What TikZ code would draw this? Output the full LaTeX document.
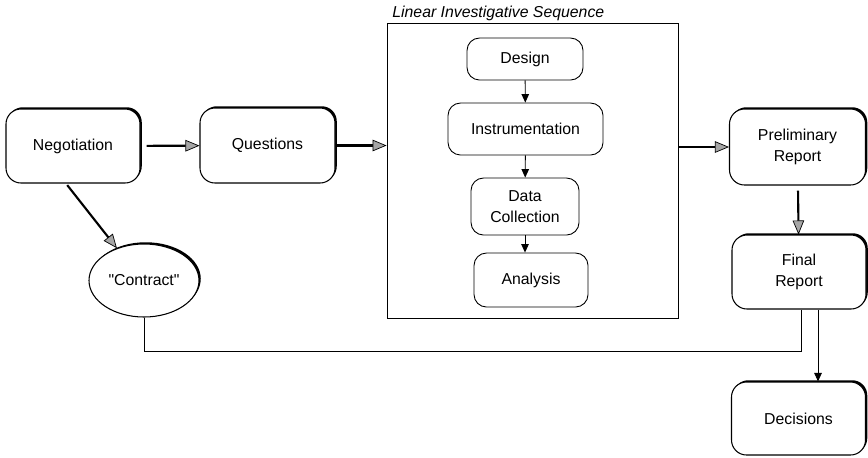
\documentclass[tikz,border=0pt]{standalone}
\usepackage{fontspec}
\setmainfont{Liberation Sans}[Ligatures=TeXOff]
\usetikzlibrary{arrows.meta,positioning,shapes.geometric,shadows}

\begin{document}
\begin{tikzpicture}[
    font=\fontsize{9}{12}\selectfont,
    block/.style={draw,fill=white,rounded corners=0.3cm,align=center,minimum width=2.68cm,minimum height=1.48cm,line width=0.6pt,
        drop shadow={shadow xshift=1pt,shadow yshift=1pt,fill=black,opacity=1}},
    innerblock/.style={draw,rounded corners=0.25cm,align=center,minimum height=1.08cm,line width=0.5pt},
    oval/.style={draw,fill=white,ellipse,inner sep=0pt,line width=0.6pt,
        drop shadow={shadow xshift=1pt,shadow yshift=1pt,fill=black,opacity=1}},
    arrow/.style={-{Triangle[length=2.8mm,width=2.3mm,line width=0.4pt,fill=gray!70]},line width=1.2pt},
    smallarrow/.style={-{Triangle[length=1.7mm,width=1.5mm]},line width=0.5pt}
]
\useasboundingbox (0,0) rectangle (17.36,-9.14);
\node[block] (neg) at (1.46,-2.92) {Negotiation};
\node[block,minimum width=2.70cm,minimum height=1.50cm] (que) at (5.35,-2.91) {Questions};
\node[oval,minimum width=2.20cm,minimum height=1.46cm] (con) at (2.88,-5.61) {"Contract"};
\node[draw,line width=0.5pt,minimum width=5.82cm,minimum height=5.90cm] (seq) at (10.65,-3.41) {};
\node[anchor=base west,inner sep=0pt,font=\fontsize{9}{11}\selectfont\itshape] (title) at (7.84,-0.34) {Linear Investigative Sequence};
\node[innerblock,minimum width=2.32cm,minimum height=0.84cm] (des) at (10.50,-1.18) {Design};
\node[innerblock,minimum width=3.10cm,minimum height=1.04cm] (ins) at (10.51,-2.58) {Instrumentation};
\node[innerblock,minimum width=2.16cm,minimum height=1.14cm] (dat) at (10.50,-4.13) {Data\\Collection};
\node[innerblock,minimum width=2.28cm] (ana) at (10.62,-5.60) {Analysis};
\node[block,minimum width=2.72cm,minimum height=1.52cm] (pre) at (15.95,-2.94) {Preliminary\\Report};
\node[block,minimum width=2.68cm] (fin) at (15.98,-5.44) {Final\\Report};
\node[block,minimum height=1.46cm] (dec) at (15.97,-8.37) {Decisions};
\draw[arrow,shorten <=0.12cm] (neg) -- (que);
\draw[arrow] (que.east) -- (que.east -| seq.west);
\draw[arrow] (seq.east |- pre.west) -- (pre.west);
\draw[arrow,shorten <=0.1cm] (pre) -- (fin);
\draw[arrow,shorten <=0.04cm] ([xshift=-0.14cm]neg.south) -- (con.130);
\draw[smallarrow] (des) -- (ins);
\draw[smallarrow] (ins) -- (dat);
\draw[smallarrow] (dat.south) -- (dat.south |- ana.north);
\draw[smallarrow] ([xshift=0.38cm]fin.south) -- ([xshift=0.38cm]fin.south |- dec.north);
\draw[line width=0.5pt] (con.south) -- ++(0,-0.68) -| ([xshift=0.05cm]fin.south);
\end{tikzpicture}
\end{document}
